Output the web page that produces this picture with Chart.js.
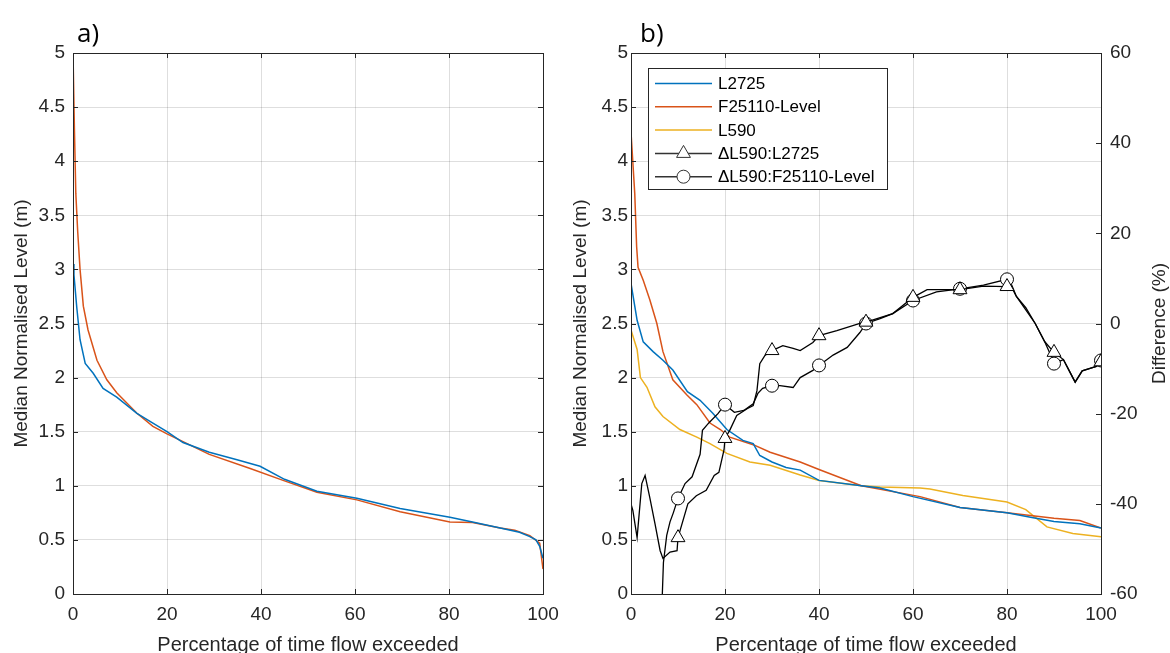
<!doctype html>
<html>

<head>
    <title>Level duration curves</title>
    <script src="https://cdn.jsdelivr.net/npm/chart.js"></script>
    <style>
        body { margin: 0; background: #fff; overflow: hidden; }
        #boxA { position: absolute; left: 0; top: 0; width: 568px; height: 660px; }
        #boxB { position: absolute; left: 560px; top: 0; width: 610px; height: 660px; }
    </style>
</head>

<body>
    <div id="boxA"><canvas id="chartA"></canvas></div>
    <div id="boxB"><canvas id="chartB"></canvas></div>

    <script>
        // ---- panel a) median normalised level vs % of time exceeded
        var pctA_L2725 = [0, 0.2, 0.8, 1.5, 2.6, 4.3, 6.4, 9.3, 13.6, 17, 20, 23.4, 29, 34.9, 39.8, 45, 51.9, 60.4, 69.6, 80.2, 85, 90.9, 95, 97.2, 98.5, 99.3, 100];
        var lvlA_L2725 = [3.05, 2.95, 2.65, 2.35, 2.13, 2.04, 1.9, 1.82, 1.67, 1.58, 1.5, 1.4, 1.31, 1.24, 1.18, 1.06, 0.95, 0.885, 0.79, 0.71, 0.665, 0.61, 0.57, 0.53, 0.5, 0.44, 0.33];
        var pctA_F25110 = [0, 0.3, 0.6, 1.0, 1.5, 2.2, 3.2, 5.1, 7.2, 9.3, 13.6, 17, 20, 29, 37.7, 44.7, 51.9, 60.4, 69.6, 80.2, 85, 90.9, 94, 97.2, 99.3, 100];
        var lvlA_F25110 = [5.0, 4.3, 3.7, 3.35, 3.0, 2.66, 2.44, 2.16, 1.98, 1.86, 1.67, 1.55, 1.48, 1.29, 1.16, 1.05, 0.94, 0.87, 0.76, 0.665, 0.66, 0.61, 0.59, 0.54, 0.47, 0.23];

        // ---- panel b) levels (left axis)
        var pctB_L2725 = [0, 1.3, 2.6, 4.7, 6.8, 8.9, 12, 14.7, 17.4, 20.4, 23.8, 26, 27.4, 30, 33, 36, 40, 49, 53, 60, 70, 80, 85, 90, 95.5, 100];
        var lvlB_L2725 = [2.87, 2.53, 2.33, 2.24, 2.16, 2.07, 1.87, 1.79, 1.67, 1.52, 1.42, 1.39, 1.28, 1.22, 1.17, 1.145, 1.05, 1.0, 0.98, 0.9, 0.8, 0.75, 0.71, 0.67, 0.65, 0.61];
        var pctB_F25110 = [0, 0.8, 1.2, 1.5, 2.6, 4, 5.5, 6.8, 8.9, 11.9, 14, 16.8, 19, 21, 26, 29.6, 36, 40, 49, 61.5, 70, 80, 90, 95.5, 100];
        var lvlB_F25110 = [4.27, 3.7, 3.21, 3.02, 2.9, 2.72, 2.5, 2.24, 1.98, 1.84, 1.75, 1.58, 1.52, 1.45, 1.38, 1.31, 1.22, 1.15, 1.0, 0.9, 0.8, 0.75, 0.7, 0.68, 0.61];
        var pctB_L590 = [0, 1.3, 2, 3.4, 5.1, 6.8, 10.4, 14, 16.8, 20.4, 25.3, 29.6, 36, 40, 49, 53, 61.5, 63.6, 70.6, 80, 84, 88.5, 94, 100];
        var lvlB_L590 = [2.44, 2.26, 2.0, 1.91, 1.73, 1.64, 1.52, 1.45, 1.39, 1.3, 1.22, 1.19, 1.1, 1.05, 1.0, 0.99, 0.98, 0.97, 0.91, 0.85, 0.78, 0.62, 0.56, 0.53];

        // ---- panel b) differences (right axis, %)
        var pctD_L2725 = [0, 0.4, 1.3, 2.3, 3.0, 4.0, 5.1, 6.2, 6.8, 8.3, 9.8, 10, 12.1, 13.9, 16, 17.7, 18.7, 19.8, 20, 21, 22.5, 24.7, 26, 26.8, 27.4, 28.5, 30, 32.3, 34.5, 36, 38.7, 40, 43.8, 48.7, 50, 55.7, 60, 63, 65, 70, 75, 80, 81, 82, 84, 86, 88, 90, 92, 93, 94.5, 96, 97.5, 99, 100];
        var difD_L2725 = [-40, -41.5, -47.5, -35.5, -33.7, -38.6, -44.4, -50.4, -52.1, -50.7, -50.4, -47.5, -40, -38.2, -37, -33.7, -33, -28, -25.5, -23.7, -20.4, -18.9, -18.2, -14.9, -8.9, -7.1, -6, -4.9, -5.5, -6, -4.2, -2.7, -1.6, 0, 0.3, 2.2, 5.8, 7.5, 7.5, 7.5, 8.3, 8.2, 8, 6, 3, 0, -4, -6.4, -8, -10, -13, -10.5, -10, -9.5, -8.5];
        var pctD_F25110 = [6.6, 6.9, 7.6, 8.3, 9, 10, 11.5, 13, 14.7, 15.2, 16.6, 18.5, 20, 22, 24, 26, 27, 28, 30, 31.7, 34.5, 36, 38.7, 40, 43, 46, 48.7, 50, 53, 55.7, 60, 65, 70, 75, 80, 81, 82, 84, 86, 88, 89.5, 90, 92, 93, 94.5, 96, 97.5, 99, 100];
        var difD_F25110 = [-62, -53, -47, -44, -42, -38.8, -35.5, -34, -29, -23.7, -22, -20, -18, -19.7, -19.3, -17.8, -15.5, -14.4, -13.8, -13.8, -14.2, -12, -10.4, -9.3, -7, -5.3, -2, 0, 1.1, 2.2, 5.1, 7, 7.7, 8.5, 9.8, 8.5, 6, 3.5, 0, -4, -7.5, -8.9, -8, -10, -13, -10.5, -10, -9.5, -8.2];

        var markerAt = [10, 20, 30, 40, 50, 60, 70, 80, 90, 100];
        var xTicks = [0, 20, 40, 60, 80, 100];

        var BLUE = '#0072BD', ORANGE = '#D95319', YELLOW = '#EDB120', AXIS = '#262626';
        var FONT = '"Liberation Sans", Arial, sans-serif';

        function pares(xs, ys) {
            return xs.map((x, i) => ({ x: x, y: ys[i] }));
        }

        // caixa do eixo + marcas de escala para dentro (estilo MATLAB)
        var moldura = {
            id: 'moldura',
            afterDatasetsDraw(chart, args, opts) {
                var ctx = chart.ctx, a = chart.chartArea, s = chart.scales;
                var L = 5;
                var px = v => Math.round(v) + 0.5;
                ctx.save();
                ctx.strokeStyle = AXIS;
                ctx.lineWidth = 1;
                ctx.beginPath();
                s.x.ticks.forEach(t => {
                    var p = px(s.x.getPixelForValue(t.value));
                    ctx.moveTo(p, a.bottom); ctx.lineTo(p, a.bottom - L);
                    ctx.moveTo(p, a.top); ctx.lineTo(p, a.top + L);
                });
                s.y.ticks.forEach(t => {
                    var p = px(s.y.getPixelForValue(t.value));
                    ctx.moveTo(a.left, p); ctx.lineTo(a.left + L, p);
                    if (!s.y1) { ctx.moveTo(a.right, p); ctx.lineTo(a.right - L, p); }
                });
                if (s.y1) {
                    s.y1.ticks.forEach(t => {
                        var p = px(s.y1.getPixelForValue(t.value));
                        ctx.moveTo(a.right, p); ctx.lineTo(a.right - L, p);
                    });
                }
                ctx.stroke();
                ctx.strokeRect(px(a.left), px(a.top), Math.round(a.right - a.left), Math.round(a.bottom - a.top));
                ctx.restore();
            },
            afterDraw(chart, args, opts) {
                var ctx = chart.ctx;
                ctx.save();
                ctx.fillStyle = '#000';
                ctx.font = '26px "Open Sans", sans-serif';
                ctx.textBaseline = 'alphabetic';
                ctx.fillText(opts.letra, opts.lx, 42);
                if (opts.direita) {
                    // titulo do eixo direito, lido de baixo para cima
                    var a = chart.chartArea;
                    ctx.translate(chart.width - 10, (a.top + a.bottom) / 2);
                    ctx.rotate(-Math.PI / 2);
                    ctx.font = '19px ' + FONT;
                    ctx.fillStyle = '#262626';
                    ctx.textAlign = 'center';
                    ctx.textBaseline = 'middle';
                    ctx.fillText(opts.direita, 0, 0);
                }
                ctx.restore();
            }
        };

        function marcador(ctx, tipo, x, y) {
            ctx.beginPath();
            if (tipo === 'circle') {
                ctx.arc(x, y, 6.5, 0, Math.PI * 2);
            } else if (tipo === 'triangle') {
                var r = 8;
                ctx.moveTo(x, y - r);
                ctx.lineTo(x + r * Math.sin(Math.PI * 2 / 3), y + r / 2);
                ctx.lineTo(x - r * Math.sin(Math.PI * 2 / 3), y + r / 2);
                ctx.closePath();
            }
            ctx.fillStyle = '#fff';
            ctx.fill();
            ctx.stroke();
        }

        // legenda desenhada dentro da area do grafico b)
        var legendaB = {
            id: 'legendaB',
            afterDraw(chart) {
                var ctx = chart.ctx;
                var x0 = 88, y0 = 68, w = 239, h = 121;
                ctx.save();
                ctx.fillStyle = '#fff';
                ctx.fillRect(x0, y0, w, h);
                ctx.strokeStyle = AXIS;
                ctx.lineWidth = 1;
                ctx.strokeRect(x0 + 0.5, y0 + 0.5, w, h);
                ctx.font = '17px ' + FONT;
                ctx.textBaseline = 'middle';
                chart.data.datasets.forEach((ds, i) => {
                    var y = 83.5 + i * 23.3;
                    ctx.strokeStyle = ds.legendColor || ds.borderColor;
                    ctx.lineWidth = 1.5;
                    ctx.beginPath();
                    ctx.moveTo(95, y); ctx.lineTo(152, y);
                    ctx.stroke();
                    if (ds.pointStyle) {
                        ctx.lineWidth = 1;
                        marcador(ctx, ds.pointStyle, 123.5, y);
                    }
                    ctx.fillStyle = '#000';
                    ctx.fillText(ds.label, 158, y + 1);
                });
                ctx.restore();
            }
        };

        function eixoX(alturaFixa) {
            return {
                type: 'linear', min: 0, max: 100,
                afterBuildTicks: s => { s.ticks = xTicks.map(v => ({ value: v })); },
                afterFit: s => { s.height = alturaFixa; },
                grid: { color: 'rgba(0,0,0,0.13)', drawTicks: false },
                border: { display: false },
                ticks: { color: '#262626', font: { family: FONT, size: 19 }, padding: 9, maxRotation: 0, callback: v => String(v) },
                title: { display: true, text: 'Percentage of time flow exceeded', color: '#262626', font: { family: FONT, size: 20 }, padding: { top: 0, bottom: 3 } }
            };
        }

        function eixoNivel(largura, pad, tpad) {
            return {
                type: 'linear', position: 'left', min: 0, max: 5,
                ticks: { stepSize: 0.5, color: '#262626', font: { family: FONT, size: 19 }, padding: pad, callback: v => String(v) },
                afterFit: s => { s.width = largura; },
                grid: { color: 'rgba(0,0,0,0.13)', drawTicks: false },
                border: { display: false },
                title: { display: true, text: 'Median Normalised Level (m)', color: '#262626', font: { family: FONT, size: 19 }, padding: { top: tpad, bottom: 0 } }
            };
        }

        var linha = (label, xs, ys, cor, ordem, eixo) => ({
            label: label,
            data: pares(xs, ys),
            borderColor: cor,
            borderWidth: 1.5,
            pointRadius: 0,
            fill: false,
            order: ordem,
            yAxisID: eixo || 'y'
        });

        var dif = (label, xs, ys, estilo, raio) => ({
            label: label,
            data: pares(xs, ys),
            borderColor: '#000',
            legendColor: '#333',
            borderWidth: 1.3,
            pointStyle: estilo,
            pointRadius: c => markerAt.includes(c.raw.x) ? raio : 0,
            pointBorderWidth: 1,
            pointBorderColor: '#000',
            pointBackgroundColor: '#fff',
            fill: false,
            order: 0,
            yAxisID: 'y1'
        });

        var chartA = new Chart(document.getElementById('chartA'), {
            type: 'line',
            data: {
                datasets: [
                    linha('L2725', pctA_L2725, lvlA_L2725, BLUE, 0),
                    linha('F25110-Level', pctA_F25110, lvlA_F25110, ORANGE, 1)
                ]
            },
            options: {
                responsive: true,
                maintainAspectRatio: false,
                animation: false,
                events: [],
                layout: { padding: { top: 53, right: 25, left: 0, bottom: 0 } },
                plugins: { legend: { display: false }, tooltip: { enabled: false }, moldura: { letra: 'a)', lx: 77 } },
                scales: { x: eixoX(66), y: eixoNivel(73, 8, 10) }
            },
            plugins: [moldura]
        });

        var eixoDif = {
            type: 'linear', position: 'right', min: -60, max: 60,
            ticks: { stepSize: 20, color: '#262626', font: { family: FONT, size: 19 }, padding: 9 },
            afterFit: s => { s.width = 69; },
            grid: { display: false, drawTicks: false },
            border: { display: false }
        };

        var chartB = new Chart(document.getElementById('chartB'), {
            type: 'line',
            data: {
                datasets: [
                    linha('L2725', pctB_L2725, lvlB_L2725, BLUE, 1),
                    linha('F25110-Level', pctB_F25110, lvlB_F25110, ORANGE, 2),
                    linha('L590', pctB_L590, lvlB_L590, YELLOW, 3),
                    dif('\u0394L590:L2725', pctD_L2725, difD_L2725, 'triangle', 8),
                    dif('\u0394L590:F25110-Level', pctD_F25110, difD_F25110, 'circle', 6.5)
                ]
            },
            options: {
                responsive: true,
                maintainAspectRatio: false,
                animation: false,
                events: [],
                layout: { padding: { top: 53, right: 0, left: 0, bottom: 0 } },
                plugins: { legend: { display: false }, tooltip: { enabled: false }, moldura: { letra: 'b)', lx: 80, direita: 'Difference (%)' } },
                scales: { x: eixoX(66), y: eixoNivel(71, 3, 9), y1: eixoDif }
            },
            plugins: [moldura, legendaB]
        });
    </script>
</body>

</html>
